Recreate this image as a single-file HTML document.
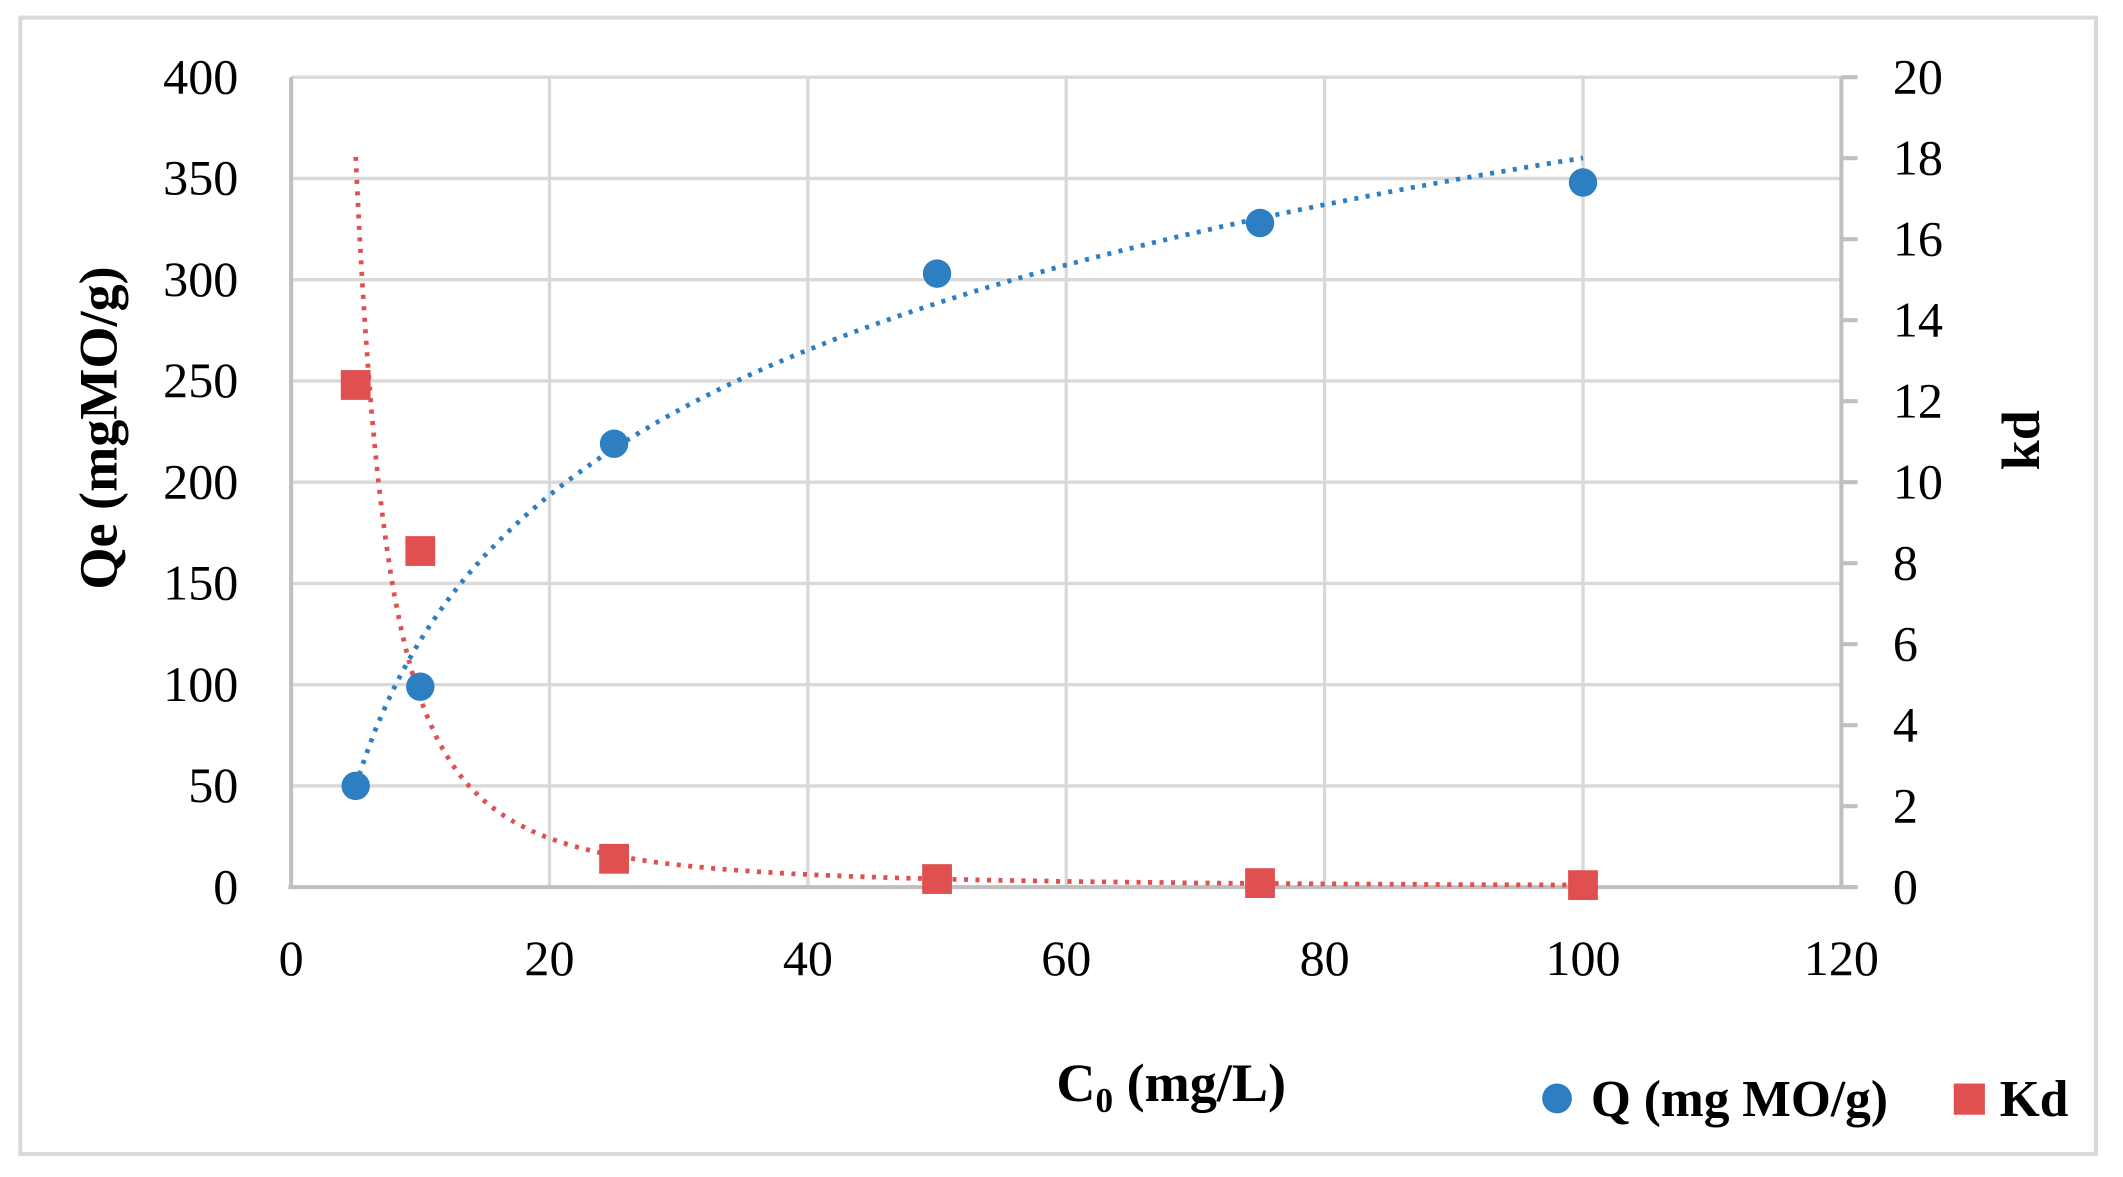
<!DOCTYPE html>
<html><head><meta charset="utf-8"><style>
html,body{margin:0;padding:0;background:#fff;}
svg{display:block;}
text{font-family:"Liberation Serif",serif;fill:#000;}
</style></head><body>
<svg id="s" width="2123" height="1177" viewBox="0 0 1568 869" preserveAspectRatio="none" xmlns="http://www.w3.org/2000/svg">
<rect x="0" y="0" width="1568" height="869" fill="#fff"/>
<rect x="15" y="13" width="1533" height="839" fill="none" stroke="#d9d9d9" stroke-width="3"/>
<g id="grid" stroke="#d9d9d9" stroke-width="2.5"></g>
<g id="axes" stroke="#bfbfbf" stroke-width="3">
<line x1="215" y1="57" x2="215" y2="655"/>
<line x1="213" y1="655" x2="1372" y2="655"/>
<line x1="1360" y1="57" x2="1360" y2="655"/>
</g>
<g id="rticks" stroke="#bfbfbf" stroke-width="3"></g>
<g id="lbl" font-size="37"></g>
<path id="qtrend" fill="none" stroke="#2e7fc2" stroke-width="3.5" stroke-dasharray="3 5.5"/>
<path id="ktrend" fill="none" stroke="#e05050" stroke-width="3.5" stroke-dasharray="3 5.5"/>
<g id="pts"></g>
<text x="0" y="0" font-size="40" font-weight="bold" text-anchor="middle" transform="translate(86,316) rotate(-90)">Qe (mgMO/g)</text>
<text x="0" y="0" font-size="40" font-weight="bold" text-anchor="middle" transform="translate(1506,325) rotate(-90)">kd</text>
<text x="865" y="813" font-size="40" font-weight="bold" text-anchor="middle">C<tspan font-size="26" dy="8">0</tspan><tspan dy="-8"> (mg/L)</tspan></text>
<circle cx="1150" cy="811" r="11" fill="#2e7fc2"/>
<text x="1175" y="824" font-size="38" font-weight="bold">Q (mg MO/g)</text>
<rect x="1443" y="800" width="23" height="23" fill="#e05050"/>
<text x="1477" y="824" font-size="38" font-weight="bold">Kd</text>
</svg>
<script>
var NS="http://www.w3.org/2000/svg";
function X(x){return 215+x*9.5417;}
function YQ(v){return 655-v*1.495;}
function YK(v){return 655-v*29.9;}
function el(p,t,a,txt){var e=document.createElementNS(NS,t);for(var k in a)e.setAttribute(k,a[k]);if(txt!==undefined)e.textContent=txt;document.getElementById(p).appendChild(e);}
for(var v=50;v<=400;v+=50)el("grid","line",{x1:215,x2:1360,y1:YQ(v),y2:YQ(v)});
for(var x=20;x<=100;x+=20)el("grid","line",{x1:X(x),x2:X(x),y1:57,y2:655});
for(var k=0;k<=20;k+=2)el("rticks","line",{x1:1360,x2:1372,y1:YK(k),y2:YK(k)});
for(var v=0;v<=400;v+=50)el("lbl","text",{x:176,y:YQ(v)+12,"text-anchor":"end"},v);
for(var k=0;k<=20;k+=2)el("lbl","text",{x:1398,y:YK(k)+12},k);
for(var x=0;x<=120;x+=20)el("lbl","text",{x:X(x),y:720,"text-anchor":"middle"},x);
var d="";for(var x=5;x<=100;x+=0.5){var q=103.5*Math.log(x)-116.5;d+=(x==5?"M":"L")+X(x).toFixed(1)+" "+YQ(q).toFixed(1);}
document.getElementById("qtrend").setAttribute("d",d);
d="";for(var x=5;x<=100;x+=0.25){var kk=416*Math.pow(x,-1.95);d+=(x==5?"M":"L")+X(x).toFixed(1)+" "+YK(kk).toFixed(1);}
document.getElementById("ktrend").setAttribute("d",d);
var Q=[[5,50],[10,99],[25,219],[50,303],[75,328],[100,348]];
var K=[[5,12.4],[10,8.3],[25,0.7],[50,0.2],[75,0.1],[100,0.05]];
K.forEach(function(p){el("pts","rect",{x:X(p[0])-11,y:YK(p[1])-11,width:22,height:22,fill:"#e05050"});});
Q.forEach(function(p){el("pts","circle",{cx:X(p[0]),cy:YQ(p[1]),r:10.5,fill:"#2e7fc2"});});
</script>
</body></html>
